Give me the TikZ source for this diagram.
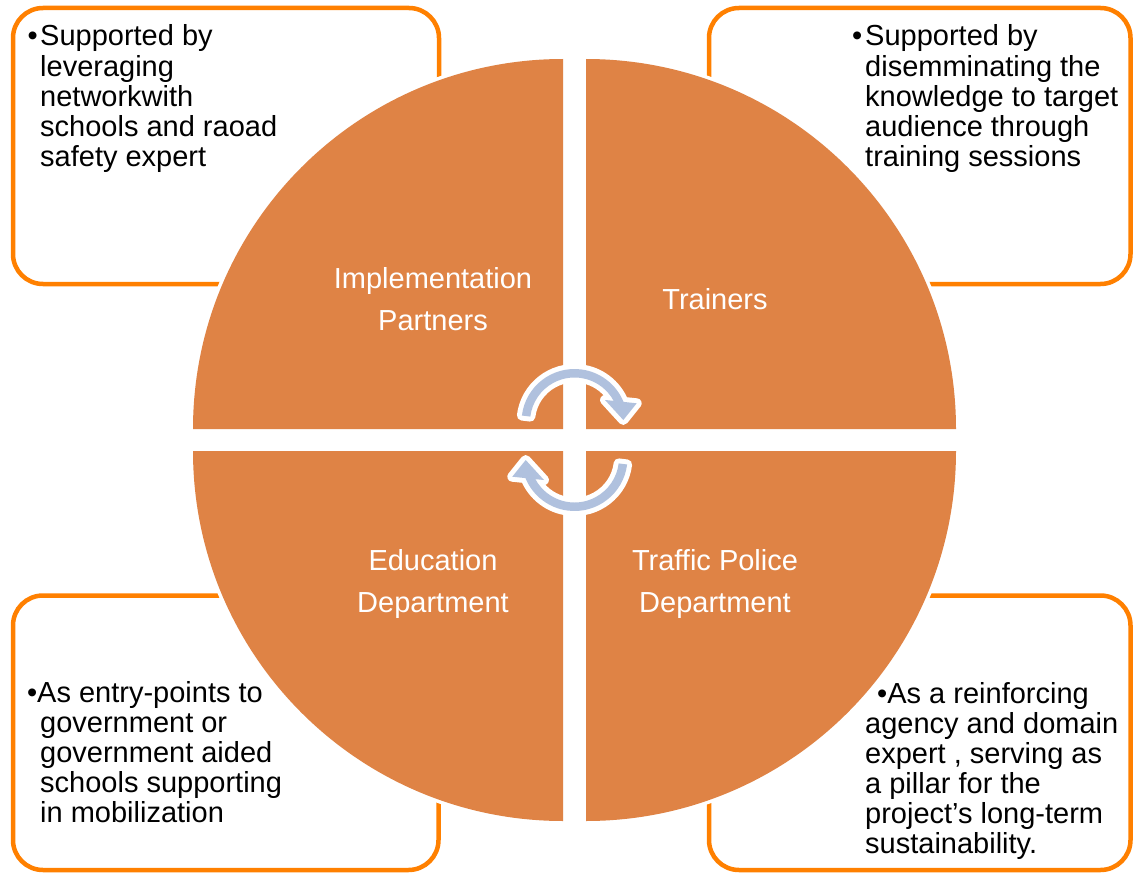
\documentclass[tikz,border=0pt]{standalone}
\usepackage{fontspec}
\setmainfont{Liberation Sans}
\definecolor{quad}{RGB}{223,131,69}
\definecolor{boxline}{RGB}{255,128,0}
\definecolor{arrowblue}{RGB}{176,193,222}
\begin{document}
\begin{tikzpicture}[x=1pt,y=1pt,
  infobox/.style={draw=boxline, line width=4.5pt, rounded corners=30pt, fill=white},
  quadrant/.style={fill=quad, preaction={draw=white, line width=7pt, line join=round}},
  cycarrow/.style={fill=arrowblue, preaction={draw=white, line width=10pt, line join=round}},
  boxtext/.style={anchor=base west, inner sep=0pt, text=black, font=\fontsize{29}{30}\selectfont},
  quadtext/.style={anchor=base, inner sep=0pt, text=white, font=\fontsize{29}{42}\selectfont}]
\useasboundingbox (0,0) rectangle (1133,-875);
\fill[white] (0,0) rectangle (1133,-875);

% corner boxes
\draw[infobox] (13,-8) rectangle (439,-284);
\draw[infobox] (709,-8) rectangle (1130.5,-284);
\draw[infobox] (13,-595.5) rectangle (438.5,-870);
\draw[infobox] (709,-595.5) rectangle (1130.5,-870);

% quadrants
\path[quadrant] (563,-429) -- (193,-429) arc[start angle=180, end angle=90, radius=370] -- cycle;
\path[quadrant] (586,-429) -- (586,-59) arc[start angle=90, end angle=0, radius=370] -- cycle;
\path[quadrant] (563,-451) -- (193,-451) arc[start angle=180, end angle=270, radius=370] -- cycle;
\path[quadrant] (586,-451) -- (956,-451) arc[start angle=0, end angle=-90, radius=370] -- cycle;

% quadrant labels
\node[quadtext] (ip) at (433,-288) {\begin{tabular}[t]{@{}c@{}}Implementation\\Partners\end{tabular}};
\node[quadtext] (tr) at (715,-309) {Trainers};
\node[quadtext] (ed) at (433,-570) {\begin{tabular}[t]{@{}c@{}}Education\\Department\end{tabular}};
\node[quadtext] (tp) at (715,-570) {\begin{tabular}[t]{@{}c@{}}Traffic Police\\Department\end{tabular}};

% box texts
\node[boxtext] (tltext) at (40,-46) {\begin{tabular}[t]{@{}l@{}}\llap{•\hspace{2.5pt}}Supported by\\leveraging\\networkwith\\schools and raoad\\safety expert\end{tabular}};
\node[boxtext] (trtext) at (865,-46) {\begin{tabular}[t]{@{}l@{}}\llap{•\hspace{3pt}}Supported by\\disemminating the\\knowledge to target\\audience through\\training sessions\end{tabular}};
\node[boxtext] (bltext) at (40,-702) {\begin{tabular}[t]{@{}l@{}}\hspace{-3pt}\llap{•}As entry-points to\\government or\\government aided\\schools supporting\\in mobilization\end{tabular}};
\node[boxtext] (brtext) at (865,-703) {\begin{tabular}[t]{@{}l@{}}\hspace{12pt}•As a reinforcing\\agency and domain\\expert , serving as\\a pillar for the\\project’s long-term\\sustainability.\end{tabular}};

% circular arrows
\path[cycarrow] ([shift={(173:53)}]574.5,-422) arc[start angle=173, end angle=22.3, radius=53]
  -- (636.7,-403.3) -- (623.3,-420) -- (605,-400)
  -- ([shift={(28.4:44.5)}]574.5,-422) arc[start angle=28.4, end angle=173, radius=44.5] -- cycle;
\begin{scope}[rotate around={180:(574.5,-440)}]
\path[cycarrow] ([shift={(173:53)}]574.5,-422) arc[start angle=173, end angle=22.3, radius=53]
  -- (636.7,-403.3) -- (623.3,-420) -- (605,-400)
  -- ([shift={(28.4:44.5)}]574.5,-422) arc[start angle=28.4, end angle=173, radius=44.5] -- cycle;
\end{scope}
\end{tikzpicture}
\end{document}
